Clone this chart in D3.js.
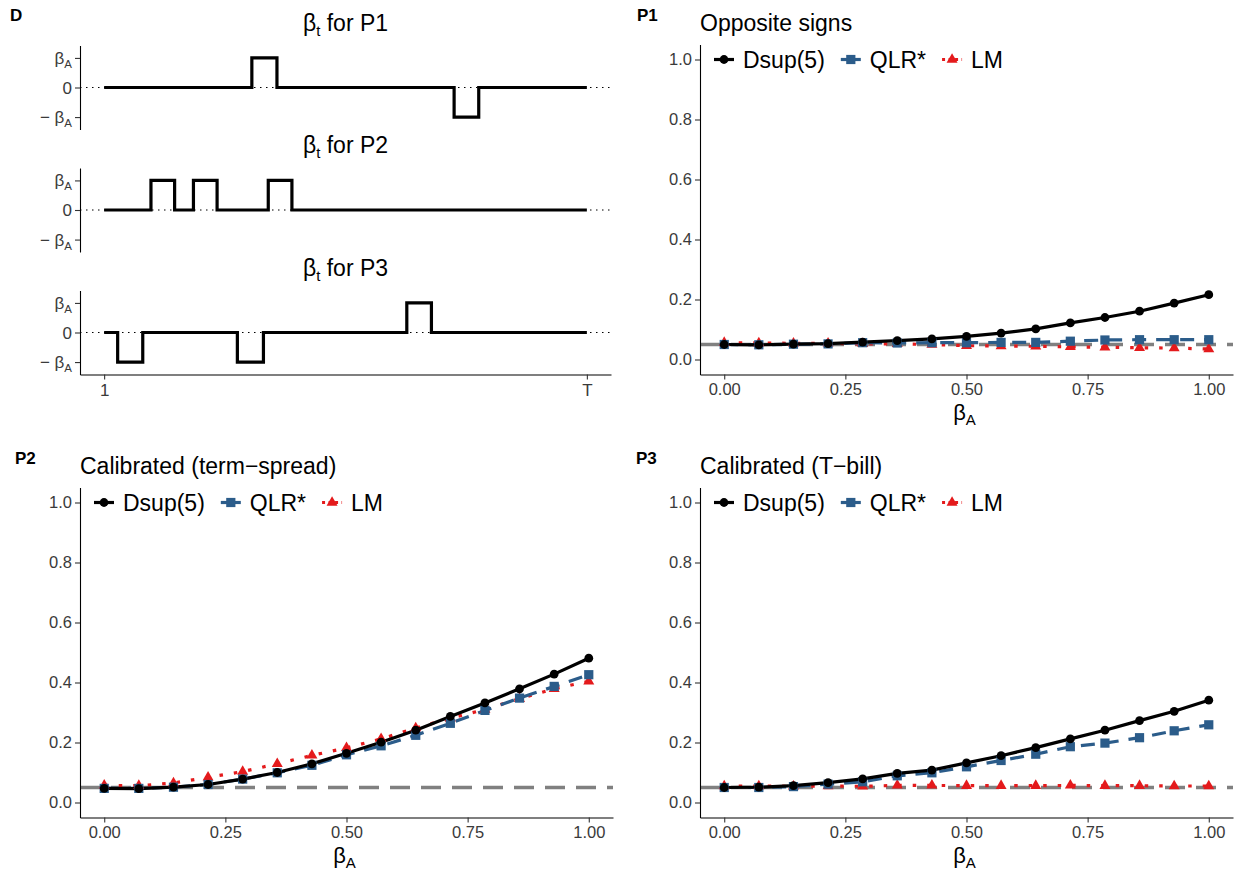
<!DOCTYPE html>
<html><head><meta charset="utf-8">
<script src="https://cdn.jsdelivr.net/npm/d3@7"></script>
<style>
body{margin:0;background:#fff}
svg{display:block}
text{font-family:"Liberation Sans",Arial,Helvetica,sans-serif}
</style>
</head><body>
<svg id="chart" width="1239" height="874"></svg>
<script>
// ---------------- data ----------------
const betaA = [0, 0.0714, 0.1429, 0.2143, 0.2857, 0.3571, 0.4286, 0.5, 0.5714, 0.6429, 0.7143, 0.7857, 0.8571, 0.9286, 1];
const xTicks = [0, 0.25, 0.5, 0.75, 1];
const yTicks = [0, 0.2, 0.4, 0.6, 0.8, 1];
const seriesNames = ["Dsup(5)", "QLR*", "LM"];
const nominal = 0.05;

const p1Dsup = [0.050, 0.049, 0.051, 0.053, 0.058, 0.063, 0.069, 0.077, 0.088, 0.102, 0.122, 0.140, 0.161, 0.188, 0.216];
const p1QLR  = [0.050, 0.049, 0.051, 0.052, 0.056, 0.055, 0.056, 0.056, 0.057, 0.057, 0.061, 0.065, 0.066, 0.066, 0.066];
const p1LM   = [0.056, 0.055, 0.054, 0.054, 0.052, 0.052, 0.050, 0.046, 0.045, 0.044, 0.042, 0.041, 0.039, 0.038, 0.035];

const p2Dsup = [0.047, 0.046, 0.051, 0.060, 0.078, 0.100, 0.129, 0.164, 0.201, 0.241, 0.287, 0.332, 0.379, 0.428, 0.481];
const p2QLR  = [0.047, 0.047, 0.051, 0.060, 0.078, 0.099, 0.124, 0.159, 0.189, 0.224, 0.264, 0.307, 0.348, 0.387, 0.426];
const p2LM   = [0.057, 0.056, 0.065, 0.084, 0.103, 0.129, 0.157, 0.182, 0.212, 0.248, 0.281, 0.310, 0.346, 0.379, 0.404];

const p3Dsup = [0.050, 0.051, 0.056, 0.066, 0.079, 0.097, 0.108, 0.132, 0.156, 0.183, 0.212, 0.241, 0.273, 0.304, 0.341];
const p3QLR  = [0.050, 0.050, 0.053, 0.061, 0.069, 0.089, 0.099, 0.119, 0.140, 0.161, 0.186, 0.198, 0.216, 0.239, 0.259];
const p3LM   = [0.055, 0.055, 0.054, 0.055, 0.054, 0.057, 0.057, 0.056, 0.056, 0.056, 0.057, 0.056, 0.056, 0.055, 0.055];

// break-point process beta_t (fraction of sample 1..T) and level (in units of beta_A)
const dP1Breaks = [0, 0.306, 0.358, 0.725, 0.776, 1];
const dP1Levels = [0, 1, 0, -1, 0];
const dP2Breaks = [0, 0.097, 0.146, 0.185, 0.234, 0.340, 0.389, 1];
const dP2Levels = [0, 1, 0, 1, 0, 1, 0];
const dP3Breaks = [0, 0.028, 0.080, 0.276, 0.330, 0.627, 0.678, 1];
const dP3Levels = [0, -1, 0, -1, 0, 1, 0];
const dTickLabels = ["1", "T"];

// ---------------- styles ----------------
const styles = {
  "Dsup(5)": {color: "#000000", dash: null, shape: "circle"},
  "QLR*":    {color: "#2b5c8a", dash: "14,10", shape: "square"},
  "LM":      {color: "#e41a1c", dash: "3.5,11", shape: "triangle"}
};

const svg = d3.select("#chart");
const axisCol = "#000";
const tickTextCol = "#3a3a3a";
const titleSize = 23;

function sub(textSel, main, subs, subSize) {
  textSel.append("tspan").text(main);
  textSel.append("tspan").attr("font-size", subSize).attr("dy", subSize * 0.35).text(subs);
}

function drawMarker(g, shape, cx, cy, color) {
  if (shape === "circle") {
    g.append("circle").attr("cx", cx).attr("cy", cy).attr("r", 4.4).attr("fill", color);
  } else if (shape === "square") {
    g.append("rect").attr("x", cx - 4.6).attr("y", cy - 4.6).attr("width", 9.2).attr("height", 9.2).attr("fill", color);
  } else {
    const s = 11;
    const h = s * Math.sqrt(3) / 2;
    g.append("path").attr("d", `M${cx},${cy - h * 2 / 3}L${cx + s / 2},${cy + h / 3}L${cx - s / 2},${cy + h / 3}Z`).attr("fill", color);
  }
}

function drawPanel(p) {
  const g = svg.append("g");
  const x = d3.scaleLinear().domain([-0.05, 1.05]).range([p.x0, p.x1]);
  const y = d3.scaleLinear().domain([-0.05, 1.05]).range([p.yBot, p.yTop]);

  // nominal level line
  g.append("line").attr("x1", p.x0).attr("x2", p.x1).attr("y1", y(nominal)).attr("y2", y(nominal))
    .attr("stroke", "#808080").attr("stroke-width", 3.4).attr("stroke-dasharray", "20,11");

  const order = ["LM", "QLR*", "Dsup(5)"];
  const data = {"Dsup(5)": p.dsup, "QLR*": p.qlr, "LM": p.lm};
  const line = d3.line().x((d, i) => x(betaA[i])).y(d => y(d));
  order.forEach(name => {
    const st = styles[name];
    g.append("path").attr("d", line(data[name])).attr("fill", "none")
      .attr("stroke", st.color).attr("stroke-width", 3.2)
      .attr("stroke-dasharray", st.dash).attr("stroke-linejoin", "round");
  });
  order.forEach(name => {
    const st = styles[name];
    data[name].forEach((v, i) => drawMarker(g, st.shape, x(betaA[i]), y(v), st.color));
  });

  // axes
  const ya = g.append("g").attr("transform", `translate(${p.x0},0)`)
    .call(d3.axisLeft(y).tickValues(yTicks).tickFormat(d3.format(".1f")).tickSize(5).tickSizeOuter(0).tickPadding(3));
  const xa = g.append("g").attr("transform", `translate(0,${p.yBot})`)
    .call(d3.axisBottom(x).tickValues(xTicks).tickFormat(d3.format(".2f")).tickSize(5).tickSizeOuter(0).tickPadding(4));
  [ya, xa].forEach(a => {
    a.select(".domain").attr("stroke", axisCol).attr("stroke-width", 1.1);
    a.selectAll(".tick line").attr("stroke", "#333").attr("stroke-width", 1.1);
    a.selectAll(".tick text").attr("font-size", 16.5).attr("fill", tickTextCol)
      .attr("font-family", '"Liberation Sans",Arial,sans-serif');
  });

  // axis title
  const at = g.append("text").attr("x", (p.x0 + p.x1) / 2 - 2).attr("y", p.yBot + 45)
    .attr("text-anchor", "middle").attr("font-size", 22).attr("fill", "#000");
  sub(at, "\u03B2", "A", 15);

  // title
  g.append("text").attr("x", p.x0).attr("y", p.yTop - 14).attr("font-size", titleSize).attr("fill", "#000").text(p.title);
  // tag
  g.append("text").attr("x", p.tagX).attr("y", p.yTop - 24).attr("font-size", 17).attr("font-weight", "bold").text(p.tag);

  // legend
  let lx = p.x0 + 14;
  const ly = y(1.0);
  seriesNames.forEach(name => {
    const st = styles[name];
    const lg = g.append("g");
    lg.append("line").attr("x1", lx).attr("x2", lx + 20).attr("y1", ly).attr("y2", ly)
      .attr("stroke", st.color).attr("stroke-width", 3.2).attr("stroke-dasharray", name === "LM" ? "3,3.5" : null);
    drawMarker(lg, st.shape, lx + 10, ly, st.color);
    const t = lg.append("text").attr("x", lx + 29).attr("y", ly + 8).attr("font-size", titleSize).attr("fill", "#000").text(name);
    lx += 29 + t.node().getComputedTextLength() + 16;
  });
}

drawPanel({x0: 700, x1: 1233, yTop: 44.5, yBot: 374.5, title: "Opposite signs", tag: "P1", tagX: 637,
  dsup: p1Dsup, qlr: p1QLR, lm: p1LM});
drawPanel({x0: 80, x1: 613, yTop: 487.5, yBot: 817.5, title: "Calibrated (term\u2212spread)", tag: "P2", tagX: 15,
  dsup: p2Dsup, qlr: p2QLR, lm: p2LM});
drawPanel({x0: 700, x1: 1233, yTop: 487.5, yBot: 817.5, title: "Calibrated (T\u2212bill)", tag: "P3", tagX: 636,
  dsup: p3Dsup, qlr: p3QLR, lm: p3LM});

// ---------------- panel D ----------------
const dx = d3.scaleLinear().domain([-0.05, 1.05]).range([80, 611]);
const dPanels = [
  {breaks: dP1Breaks, levels: dP1Levels, label: "P1", cy: 87.5},
  {breaks: dP2Breaks, levels: dP2Levels, label: "P2", cy: 210},
  {breaks: dP3Breaks, levels: dP3Levels, label: "P3", cy: 332.5}
];
const dg = svg.append("g");
dg.append("text").attr("x", 10).attr("y", 21).attr("font-size", 17).attr("font-weight", "bold").text("D");
dPanels.forEach((dp, k) => {
  const y = d3.scaleLinear().domain([-1.42, 1.42]).range([dp.cy + 42, dp.cy - 42]);
  const g = dg.append("g");
  // zero dotted line
  g.append("line").attr("x1", 80).attr("x2", 611).attr("y1", y(0)).attr("y2", y(0))
    .attr("stroke", "#000").attr("stroke-width", 1.2).attr("stroke-dasharray", "1.5,4.5");
  const pts = dp.levels.map((l, i) => [dp.breaks[i], l]);
  pts.push([dp.breaks[dp.breaks.length - 1], dp.levels[dp.levels.length - 1]]);
  g.append("path").attr("d", d3.line().x(d => dx(d[0])).y(d => y(d[1])).curve(d3.curveStepAfter)(pts))
    .attr("fill", "none").attr("stroke", "#000").attr("stroke-width", 3.2);
  const ya = g.append("g").attr("transform", "translate(80,0)")
    .call(d3.axisLeft(y).tickValues([-1, 0, 1]).tickFormat("").tickSize(5).tickSizeOuter(0));
  ya.select(".domain").attr("stroke", axisCol).attr("stroke-width", 1.1);
  ya.selectAll(".tick line").attr("stroke", "#333").attr("stroke-width", 1.1);
  [[1, "", "\u03B2"], [0, "", "0"], [-1, "\u2212 ", "\u03B2"]].forEach(([v, pre, main]) => {
    const t = g.append("text").attr("x", 72).attr("y", y(v) + 6).attr("text-anchor", "end")
      .attr("font-size", 17).attr("fill", tickTextCol);
    if (main === "0") { t.text("0"); }
    else {
      t.append("tspan").text(pre + main);
      t.append("tspan").attr("font-size", 11.5).attr("dy", 4).text("A");
    }
  });
  const tt = g.append("text").attr("x", 345.5).attr("y", dp.cy - 57).attr("text-anchor", "middle")
    .attr("font-size", titleSize).attr("fill", "#000");
  tt.append("tspan").text("\u03B2");
  tt.append("tspan").attr("font-size", 15).attr("dy", 5).text("t");
  tt.append("tspan").attr("dy", -5).text(" for " + dp.label);
  if (k === 2) {
    const xa = g.append("g").attr("transform", `translate(0,${dp.cy + 42})`)
      .call(d3.axisBottom(dx).tickValues([0, 1]).tickFormat((d, i) => dTickLabels[i]).tickSize(5).tickSizeOuter(0).tickPadding(4));
    xa.select(".domain").attr("stroke", axisCol).attr("stroke-width", 1.1);
    xa.selectAll(".tick line").attr("stroke", "#333").attr("stroke-width", 1.1);
    xa.selectAll(".tick text").attr("font-size", 17).attr("fill", tickTextCol)
      .attr("font-family", '"Liberation Sans",Arial,sans-serif');
  }
});
</script>
</body></html>
